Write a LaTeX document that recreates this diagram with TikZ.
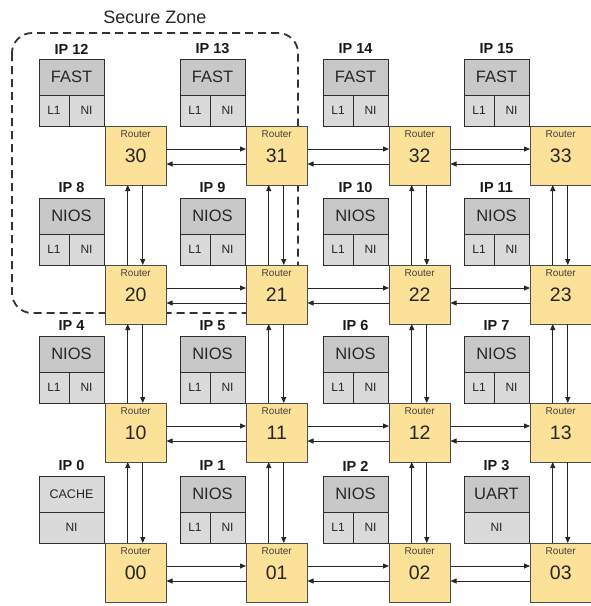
\documentclass[tikz,border=0pt]{standalone}
\usepackage{fontspec}
\setmainfont{Liberation Sans}
\usetikzlibrary{arrows.meta,calc}

\definecolor{rfill}{RGB}{252,226,152}
\definecolor{dgray}{RGB}{200,200,200}
\definecolor{lgray}{RGB}{218,218,218}
\definecolor{edgec}{RGB}{45,45,45}

\tikzset{
  router/.style={draw=edgec!85, line width=0.9pt, fill=rfill, minimum width=61.5pt,
    minimum height=59pt, inner sep=0pt, outer sep=0pt, anchor=north west,
    font=\fontsize{19.5}{19.5}\selectfont, text=black!85},
  rlab/.style={font=\fontsize{10}{10}\selectfont, text=black!75, inner sep=0pt},
  iptop/.style={draw=edgec, line width=1pt, fill=dgray, minimum width=65pt,
    minimum height=36pt, inner sep=0pt, outer sep=0pt, anchor=north west,
    font=\fontsize{16.5}{16.5}\selectfont, text=black!85},
  ipbot/.style={draw=edgec, line width=1pt, fill=lgray, minimum height=31pt,
    inner sep=0pt, outer sep=0pt, anchor=north west,
    font=\fontsize{12}{12}\selectfont, text=black!85},
  iplab/.style={font=\bfseries\fontsize{14.5}{14.5}\selectfont, text=black!90, inner sep=0pt},
  arr/.style={-{Triangle[length=6pt,width=5pt]}, line width=0.8pt, draw=black!85},
  zone/.style={draw=black!80, line width=1.8pt, dash pattern=on 8pt off 5pt, rounded corners=20pt}
}

\begin{document}
\begin{tikzpicture}[x=1pt,y=-1pt]
\useasboundingbox (0,0) rectangle (590,606);

% secure zone
\draw[zone] (12,33) rectangle (298,313);
\node[font=\fontsize{18}{18}\selectfont, text=black!85] (szlab) at (155,17) {Secure Zone};

% routers
\foreach \r/\y in {0/543,1/403,2/265,3/126}{
  \foreach \c/\x in {0/105,1/246,2/389,3/530}{
    \node[router] (r\r\c) at (\x,\y) {\r\c};
    \node[rlab] (rl\r\c) at ([yshift=-8pt]r\r\c.north) {Router};
  }
}

% horizontal links
\foreach \r in {0,1,2,3}{
  \foreach \c/\cn in {0/1,1/2,2/3}{
    \draw[arr] ([yshift=6.5pt]r\r\c.east) -- ([yshift=6.5pt]r\r\cn.west);
    \draw[arr] ([yshift=-8.5pt]r\r\cn.west) -- ([yshift=-8.5pt]r\r\c.east);
  }
}

% vertical links
\foreach \c in {0,1,2,3}{
  \foreach \r/\rn in {0/1,1/2,2/3}{
    \draw[arr] ([xshift=-8pt]r\r\c.north) -- ([xshift=-8pt]r\rn\c.south);
    \draw[arr] ([xshift=7pt]r\rn\c.south) -- ([xshift=7pt]r\r\c.north);
  }
}

% IP blocks with L1 and NI
\foreach \n/\x/\y/\t in {12/39/59/FAST,13/180/59/FAST,14/323/59/FAST,15/464/59/FAST,
  8/39/198/NIOS,9/180/198/NIOS,10/323/198/NIOS,11/464/198/NIOS,
  4/39/336/NIOS,5/180/336/NIOS,6/323/336/NIOS,7/464/336/NIOS,
  1/180/476/NIOS,2/323/476/NIOS}{
  \node[ipbot, minimum width=30pt] (ip\n l) at (\x,\y+36) {L1};
  \node[ipbot, minimum width=35pt] (ip\n n) at (\x+30,\y+36) {NI};
  \node[iptop] (ip\n t) at (\x,\y) {\t};
  \node[iplab] (ip\n lab) at (\x+32.5,\y-10) {IP \n};
}

% IP 0
\node[ipbot, minimum width=65pt] (ip0n) at (39,512) {NI};
\node[iptop, fill=lgray, font=\fontsize{12.5}{12.5}\selectfont] (ip0t) at (39,476) {CACHE};
\node[iplab] (ip0lab) at (71.5,466) {IP 0};

% IP 3
\node[ipbot, minimum width=65pt] (ip3n) at (464,512) {NI};
\node[iptop] (ip3t) at (464,476) {UART};
\node[iplab] (ip3lab) at (496.5,466) {IP 3};

\end{tikzpicture}
\end{document}
